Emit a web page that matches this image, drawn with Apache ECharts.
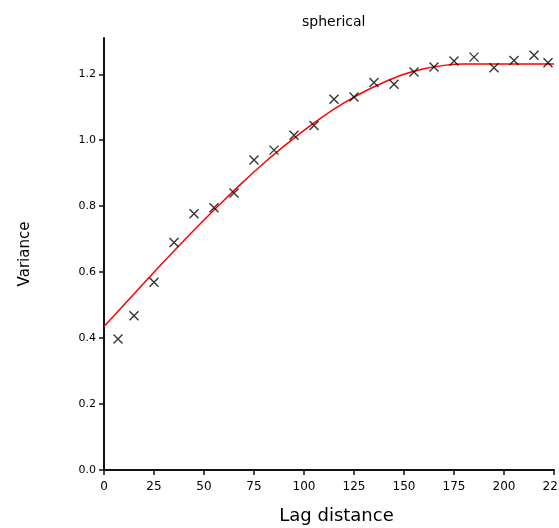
<!DOCTYPE html>
<html>
<head>
<meta charset="utf-8">
<script src="https://cdn.jsdelivr.net/npm/echarts@6/dist/echarts.min.js"></script>
<style>
html,body{margin:0;padding:0;background:#fff;}
#chart{width:559px;height:528px;}
</style>
</head>
<body>
<div id="chart"></div>
<script>
// Empirical semivariogram points (lag distance, variance)
var lagX = [7, 15, 25, 35, 45, 55, 65, 75, 85, 95, 105, 115, 125, 135, 145, 155, 165, 175, 185, 195, 205, 215, 222];
var variance = [0.397, 0.468, 0.569, 0.690, 0.777, 0.795, 0.840, 0.940, 0.970, 1.015, 1.045, 1.124, 1.131, 1.175, 1.170, 1.207, 1.222, 1.240, 1.252, 1.220, 1.242, 1.258, 1.235];
// Fitted spherical model curve
var curveX = [0, 10, 20, 30, 40, 50, 60, 70, 80, 90, 100, 110, 120, 130, 140, 150, 160, 170, 180, 225];
var curveY = [0.435, 0.501, 0.567, 0.632, 0.696, 0.758, 0.818, 0.876, 0.931, 0.982, 1.030, 1.074, 1.113, 1.147, 1.176, 1.200, 1.217, 1.227, 1.231, 1.231];
// Tick values
var xTicks = [0, 25, 50, 75, 100, 125, 150, 175, 200, 225];
var yTicks = [0, 0.2, 0.4, 0.6, 0.8, 1.0, 1.2];

var font = 'DejaVu Sans';
var chart = echarts.init(document.getElementById('chart'), null, {renderer: 'canvas'});
var option = {
  animation: false,
  backgroundColor: '#fff',
  title: {
    text: 'spherical',
    left: 297, top: 10,
    textStyle: {fontFamily: font, fontSize: 14, fontWeight: 'normal', color: '#000'}
  },
  grid: {left: 104, right: 5, top: 38, bottom: 58, containLabel: false, outerBoundsMode: 'none'},
  xAxis: {
    type: 'value', min: 0, max: 225, interval: 25,
    name: 'Lag distance', nameLocation: 'middle', nameGap: 37,
    nameTextStyle: {fontFamily: font, fontSize: 18, color: '#000', padding: [0, 0, 0, 15]},
    axisLine: {show: true, lineStyle: {color: '#111', width: 2}},
    axisTick: {show: true, length: 5, lineStyle: {color: '#111', width: 1.5}, customValues: xTicks},
    axisLabel: {fontFamily: font, fontSize: 12, color: '#000', margin: 11, customValues: xTicks},
    splitLine: {show: false}
  },
  yAxis: {
    type: 'value', min: 0, max: 1.31,
    name: 'Variance', nameLocation: 'middle', nameGap: 71, nameRotate: 90,
    nameTextStyle: {fontFamily: font, fontSize: 15, color: '#000'},
    axisLine: {show: true, lineStyle: {color: '#111', width: 2}},
    axisTick: {show: true, length: 5, lineStyle: {color: '#111', width: 1.5}, customValues: yTicks},
    axisLabel: {fontFamily: font, fontSize: 11, color: '#000', margin: 8, customValues: yTicks,
      formatter: function (v) { return v.toFixed(1); }},
    splitLine: {show: false}
  },
  series: [
    {
      type: 'line',
      data: curveX.map(function (x, i) { return [x, curveY[i]]; }),
      smooth: 0.3,
      showSymbol: false,
      lineStyle: {color: '#ff0000', width: 1.5},
      z: 2
    },
    {
      type: 'scatter',
      data: lagX.map(function (x, i) { return [x, variance[i]]; }),
      symbol: 'path://M0,0L10,10M10,0L0,10',
      symbolSize: 9,
      itemStyle: {color: 'none', borderColor: '#000', borderWidth: 1.4},
      z: 3
    }
  ]
};
chart.setOption(option);
</script>
</body>
</html>
